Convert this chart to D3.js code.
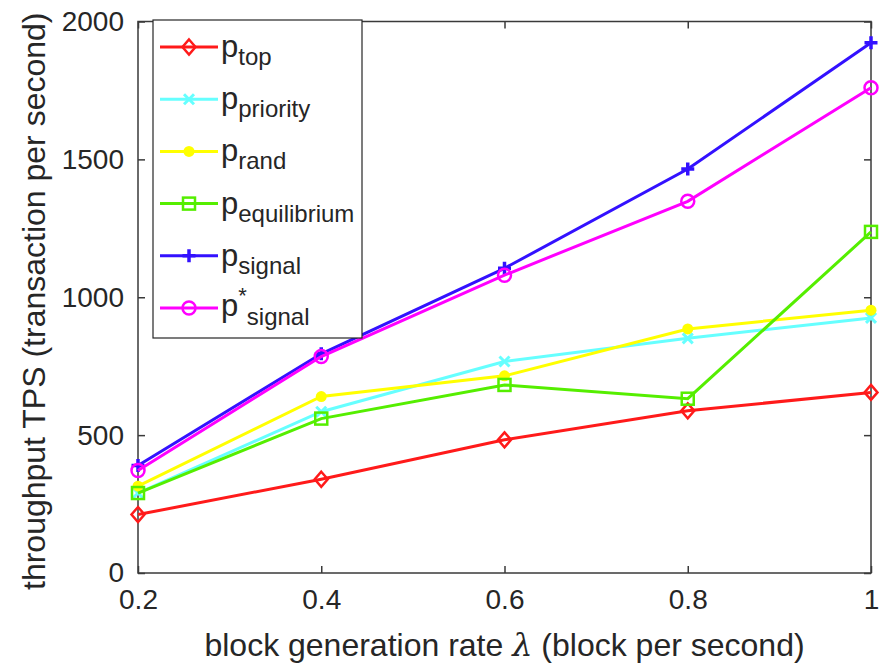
<!DOCTYPE html>
<html>
<head>
<meta charset="utf-8">
<script src="https://cdn.jsdelivr.net/npm/d3@7"></script>
<style>
  body { margin: 0; background: #fff; }
  text { font-family: "Liberation Sans", Arial, sans-serif; fill: #262626; }
</style>
</head>
<body>
<script>
// data
const lambdas = [0.2, 0.4, 0.6, 0.8, 1.0];
const xTicks = [0.2, 0.4, 0.6, 0.8, 1];
const yTicks = [0, 500, 1000, 1500, 2000];

const pTop = [212, 340, 483, 588, 655];
const pPriority = [290, 585, 767, 851, 925];
const pRand = [315, 640, 715, 885, 953];
const pEquilibrium = [290, 560, 682, 632, 1237];
const pSignal = [390, 795, 1105, 1465, 1923];
const pSignalStar = [372, 785, 1080, 1348, 1760];

const seriesNames = ["top", "priority", "rand", "equilibrium", "signal", "signal"];
const seriesColors = ["#ff1a1a", "#66ffff", "#ffff00", "#55ee00", "#3311ff", "#ff00ff"];
const seriesMarkers = ["diamond", "x", "dot", "square", "plus", "circle"];
const seriesValues = [pTop, pPriority, pRand, pEquilibrium, pSignal, pSignalStar];

const canvWidth = 880, canvHeight = 670;
const plot = {left: 138, right: 871, top: 21.5, bottom: 573};

const svg = d3.select('body')
    .append('svg')
    .attr('width', canvWidth)
    .attr('height', canvHeight);

const xScale = d3.scaleLinear().domain([0.2, 1]).range([plot.left, plot.right]);
const yScale = d3.scaleLinear().domain([0, 2000]).range([plot.bottom, plot.top]);

// marker drawing
function drawMarker(g, type, color, cx, cy) {
    if (type === "diamond") {
        g.append("path")
            .attr("d", `M${cx},${cy - 7.5}L${cx + 6.5},${cy}L${cx},${cy + 7.5}L${cx - 6.5},${cy}Z`)
            .attr("fill", "none").attr("stroke", color).attr("stroke-width", 2.5);
    } else if (type === "x") {
        g.append("path")
            .attr("d", `M${cx - 5},${cy - 5}L${cx + 5},${cy + 5}M${cx - 5},${cy + 5}L${cx + 5},${cy - 5}`)
            .attr("stroke", color).attr("stroke-width", 3);
    } else if (type === "dot") {
        g.append("circle").attr("cx", cx).attr("cy", cy).attr("r", 5.5).attr("fill", color);
    } else if (type === "square") {
        g.append("rect").attr("x", cx - 6).attr("y", cy - 6).attr("width", 12).attr("height", 12)
            .attr("fill", "none").attr("stroke", color).attr("stroke-width", 2.5);
    } else if (type === "plus") {
        g.append("path")
            .attr("d", `M${cx - 6.5},${cy}L${cx + 6.5},${cy}M${cx},${cy - 6.5}L${cx},${cy + 6.5}`)
            .attr("stroke", color).attr("stroke-width", 3.5);
    } else if (type === "circle") {
        g.append("circle").attr("cx", cx).attr("cy", cy).attr("r", 6.5)
            .attr("fill", "none").attr("stroke", color).attr("stroke-width", 2.5);
    }
}

// axes box
svg.append("rect")
    .attr("x", plot.left).attr("y", plot.top)
    .attr("width", plot.right - plot.left).attr("height", plot.bottom - plot.top)
    .attr("fill", "none").attr("stroke", "#3a3a3a").attr("stroke-width", 1.5);

// ticks, inward on all four sides
const axisBottom = svg.append("g")
    .attr("transform", `translate(0,${plot.bottom})`)
    .call(d3.axisBottom(xScale).tickValues(xTicks).tickSizeInner(-7).tickSizeOuter(0).tickPadding(16)
        .tickFormat(d => d === 1 ? "1" : d3.format(".1f")(d)));
const axisTop = svg.append("g")
    .attr("transform", `translate(0,${plot.top})`)
    .call(d3.axisTop(xScale).tickValues(xTicks).tickSizeInner(-7).tickSizeOuter(0).tickFormat(""));
const axisLeft = svg.append("g")
    .attr("transform", `translate(${plot.left},0)`)
    .call(d3.axisLeft(yScale).tickValues(yTicks).tickSizeInner(-7).tickSizeOuter(0).tickPadding(14)
        .tickFormat(d3.format("d")));
const axisRight = svg.append("g")
    .attr("transform", `translate(${plot.right},0)`)
    .call(d3.axisRight(yScale).tickValues(yTicks).tickSizeInner(-7).tickSizeOuter(0).tickFormat(""));

[axisBottom, axisTop, axisLeft, axisRight].forEach(a => {
    a.select(".domain").remove();
    a.selectAll(".tick line").attr("stroke", "#3a3a3a").attr("stroke-width", 1.5);
    a.selectAll(".tick text")
        .style("font-family", '"Liberation Sans", Arial, sans-serif')
        .style("font-size", "28px")
        .attr("fill", "#262626");
});
axisBottom.selectAll(".tick text").attr("dy", "0.71em");

// axis labels
svg.append("text")
    .attr("x", (plot.left + plot.right) / 2)
    .attr("y", 656)
    .style("text-anchor", "middle")
    .style("font-size", "32px")
    .html('block generation rate <tspan font-family="DejaVu Serif" font-style="italic">λ</tspan> (block per second)');

svg.append("text")
    .attr("transform", `translate(45,${(plot.top + plot.bottom) / 2 + 4}) rotate(-90)`)
    .style("text-anchor", "middle")
    .style("font-size", "32px")
    .text("throughput TPS (transaction per second)");

// lines and markers
const line = d3.line()
    .x((d, i) => xScale(lambdas[i]))
    .y(d => yScale(d));

seriesValues.forEach((vals, s) => {
    const g = svg.append("g");
    g.append("path")
        .datum(vals)
        .attr("fill", "none")
        .attr("stroke", seriesColors[s])
        .attr("stroke-width", 3)
        .attr("d", line);
    vals.forEach((v, i) => drawMarker(g, seriesMarkers[s], seriesColors[s], xScale(lambdas[i]), yScale(v)));
});

// legend
const legend = svg.append("g").attr("id", "legend");
legend.append("rect")
    .attr("x", 153).attr("y", 20)
    .attr("width", 209).attr("height", 318)
    .attr("fill", "#fff")
    .attr("stroke", "#262626")
    .attr("stroke-width", 1.2);

seriesNames.forEach((name, s) => {
    const rowY = 47 + s * 52.2;
    legend.append("line")
        .attr("x1", 160).attr("x2", 218)
        .attr("y1", rowY).attr("y2", rowY)
        .attr("stroke", seriesColors[s]).attr("stroke-width", 3);
    drawMarker(legend, seriesMarkers[s], seriesColors[s], 189, rowY);

    const t = legend.append("text")
        .attr("x", 221)
        .attr("y", rowY + (s === 5 ? 8 : 10))
        .style("font-size", "31px");
    t.append("tspan").text("p");
    if (s === 5) {
        t.append("tspan").attr("dy", -13).style("font-size", "22px").text("*");
        t.append("tspan").attr("dy", 22).style("font-size", "24px").text(name);
    } else {
        t.append("tspan").attr("dy", 8).style("font-size", "24px").text(name);
    }
});
</script>
</body>
</html>
